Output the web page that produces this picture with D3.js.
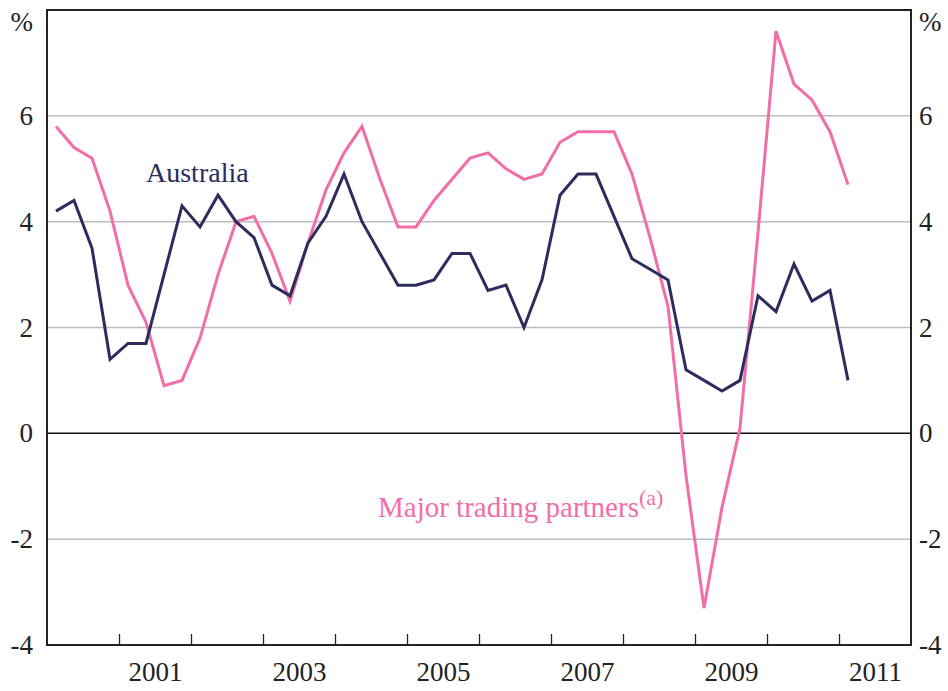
<!DOCTYPE html>
<html lang="en">
<head>
<meta charset="utf-8">
<title>Australia vs major trading partners</title>
<script src="https://cdn.jsdelivr.net/npm/d3@7/dist/d3.min.js"></script>
<style>
  html, body { margin: 0; padding: 0; background: #fff; }
  svg { display: block; font-family: "Liberation Serif", "Times New Roman", serif; }
  .tick text { fill: #222; }
</style>
</head>
<body>
<script>
// quarterly values, Q1 2000 .. Q1 2011
var australia = [4.2, 4.4, 3.5, 1.4, 1.7, 1.7, 3.0, 4.3, 3.9, 4.5, 4.0, 3.7, 2.8, 2.6, 3.6, 4.1,
  4.9, 4.0, 3.4, 2.8, 2.8, 2.9, 3.4, 3.4, 2.7, 2.8, 2.0, 2.9, 4.5, 4.9, 4.9, 4.1,
  3.3, 3.1, 2.9, 1.2, 1.0, 0.8, 1.0, 2.6, 2.3, 3.2, 2.5, 2.7, 1.0];
var partners = [5.8, 5.4, 5.2, 4.2, 2.8, 2.1, 0.9, 1.0, 1.8, 3.0, 4.0, 4.1, 3.4, 2.5, 3.6, 4.6,
  5.3, 5.8, 4.8, 3.9, 3.9, 4.4, 4.8, 5.2, 5.3, 5.0, 4.8, 4.9, 5.5, 5.7, 5.7, 5.7,
  4.9, 3.7, 2.4, -0.8, -3.3, -1.4, 0.1, 3.8, 7.6, 6.6, 6.3, 5.7, 4.7];
var startYear = 2000;
var yearLabels = ["2001", "2003", "2005", "2007", "2009", "2011"];
var yTicks = [-4, -2, 0, 2, 4, 6];

var W = 948, H = 691;
var margin = {top: 10, right: 37, bottom: 46, left: 47};
var w = W - margin.left - margin.right;
var h = H - margin.top - margin.bottom;

var navy = "#2c2d5e", pink = "#f16ea8";

var svg = d3.select("body").append("svg")
  .attr("width", W)
  .attr("height", H);
var g = svg.append("g")
  .attr("transform", "translate(" + margin.left + "," + margin.top + ")");

var x = d3.scaleLinear().domain([2000, 2012]).range([0, w]);
var y = d3.scaleLinear().domain([-4, 8]).range([h, 0]);

var qx = (i) => x(startYear + (i + 0.5) / 4);

// grid lines
g.selectAll("line.grid")
  .data([-2, 2, 4, 6])
  .enter().append("line")
  .attr("class", "grid")
  .attr("x1", 0).attr("x2", w)
  .attr("y1", (d) => y(d)).attr("y2", (d) => y(d))
  .attr("stroke", "#bdbdbd")
  .attr("stroke-width", 1.5);

g.append("line")
  .attr("x1", 0).attr("x2", w)
  .attr("y1", y(0)).attr("y2", y(0))
  .attr("stroke", "#111")
  .attr("stroke-width", 1.5);

// year ticks (inward)
var tickAxis = d3.axisBottom(x)
  .tickValues(d3.range(2001, 2012))
  .tickSize(-11)
  .tickFormat("");
g.append("g")
  .attr("transform", "translate(0," + h + ")")
  .call(tickAxis)
  .call((s) => s.select(".domain").remove())
  .selectAll("line").attr("stroke", "#222").attr("stroke-width", 1.3);

// year labels between ticks
var labAxis = d3.axisBottom(x)
  .tickValues(yearLabels.map((d) => +d + 0.5))
  .tickSize(0)
  .tickPadding(17)
  .tickFormat((d, i) => yearLabels[i]);
g.append("g")
  .attr("transform", "translate(0," + h + ")")
  .call(labAxis)
  .call((s) => s.select(".domain").remove())
  .selectAll("text").attr("font-size", 27).attr("font-family", "Liberation Serif");

// left / right labels (plain hyphen for negatives)
var fmt = (d) => String(d);
var leftAxis = d3.axisLeft(y).tickValues(yTicks).tickSize(0).tickPadding(14).tickFormat(fmt);
g.append("g").call(leftAxis)
  .call((s) => s.select(".domain").remove())
  .selectAll("text").attr("font-size", 27).attr("font-family", "Liberation Serif");

var rightAxis = d3.axisRight(y).tickValues(yTicks).tickSize(0).tickPadding(8).tickFormat(fmt);
g.append("g")
  .attr("transform", "translate(" + w + ",0)")
  .call(rightAxis)
  .call((s) => s.select(".domain").remove())
  .selectAll("text").attr("font-size", 27).attr("font-family", "Liberation Serif");

// % units
svg.append("text").attr("x", 33).attr("y", 31).attr("text-anchor", "end")
  .attr("font-size", 27).attr("fill", "#222").text("%");
svg.append("text").attr("x", 919).attr("y", 31)
  .attr("font-size", 27).attr("fill", "#222").text("%");

// frame
g.append("rect")
  .attr("width", w).attr("height", h)
  .attr("fill", "none")
  .attr("stroke", "#222")
  .attr("stroke-width", 2);

// lines
var line = d3.line()
  .x((d, i) => qx(i))
  .y((d) => y(d));

g.append("path")
  .datum(partners)
  .attr("d", line)
  .attr("fill", "none")
  .attr("stroke", pink)
  .attr("stroke-width", 3)
  .attr("stroke-linejoin", "miter");

g.append("path")
  .datum(australia)
  .attr("d", line)
  .attr("fill", "none")
  .attr("stroke", navy)
  .attr("stroke-width", 3)
  .attr("stroke-linejoin", "miter");

// series labels
svg.append("text")
  .attr("x", 146).attr("y", 182)
  .attr("font-size", 28)
  .attr("fill", navy)
  .text("Australia");

var mt = svg.append("text")
  .attr("x", 378).attr("y", 517)
  .attr("font-size", 29)
  .attr("fill", pink);
mt.append("tspan").text("Major trading partners");
mt.append("tspan").attr("font-size", 22).attr("dy", -12).text("(a)");
</script>
</body>
</html>
